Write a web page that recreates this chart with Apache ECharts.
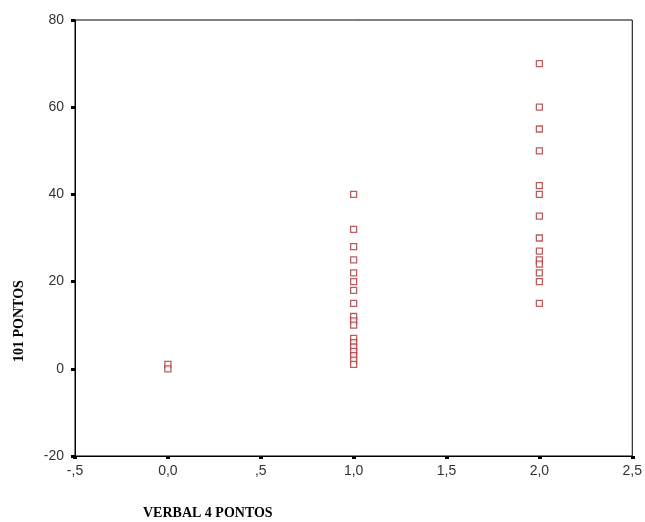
<!DOCTYPE html>
<html>
<head>
<meta charset="utf-8">
<script src="https://cdn.jsdelivr.net/npm/echarts@6/dist/echarts.min.js"></script>
<style>
    html, body { margin: 0; padding: 0; background: #fff; }
    #chart { width: 645px; height: 522px; }
</style>
</head>
<body>
<div id="chart"></div>
<script>
    // verbal score groups and the "101 pontos" values
    var group0 = [1, 0]
    var group1 = [40, 32, 28, 25, 22, 20, 18, 15, 12, 11, 10, 7, 6, 5, 4, 3, 2, 1]
    var group2 = [70, 60, 55, 50, 42, 40, 35, 30, 27, 25, 24, 22, 20, 15]

    var xTickLabels = { '-0.5': '-,5', '0': '0,0', '0.5': ',5', '1': '1,0', '1.5': '1,5', '2': '2,0', '2.5': '2,5' }

    function toPoints(x, arr) {
        return arr.map(function (v) { return [x, v] })
    }

    var points = [].concat(toPoints(0, group0), toPoints(1, group1), toPoints(2, group2))

    var chart = echarts.init(document.getElementById('chart'), null, { renderer: 'canvas' })

    chart.setOption({
        animation: false,
        grid: {
            left: 75,
            right: 11,
            top: 20,
            bottom: 66,
            show: true,
            borderColor: '#000',
            borderWidth: 1
        },
        xAxis: {
            type: 'value',
            min: -0.5,
            max: 2.5,
            interval: 0.5,
            splitLine: { show: false },
            axisLine: { onZero: false, lineStyle: { color: '#000' } },
            axisTick: { length: 3, lineStyle: { color: '#000', width: 4 } },
            axisLabel: {
                color: '#333',
                fontFamily: 'Liberation Sans, Arial',
                fontSize: 14,
                margin: 8,
                formatter: function (v) { return xTickLabels[String(v)] }
            }
        },
        yAxis: {
            type: 'value',
            min: -20,
            max: 80,
            interval: 20,
            splitLine: { show: false },
            axisLine: { onZero: false, lineStyle: { color: '#000' } },
            axisTick: { length: 4, lineStyle: { color: '#000', width: 3 } },
            axisLabel: {
                color: '#333',
                fontFamily: 'Liberation Sans, Arial',
                fontSize: 14,
                margin: 11
            }
        },
        graphic: [
            {
                type: 'text',
                left: 143,
                top: 506,
                style: {
                    text: 'VERBAL 4 PONTOS',
                    fill: '#000',
                    font: 'bold 14px "Liberation Serif", "DejaVu Serif", serif'
                }
            },
            {
                type: 'text',
                x: 12,
                y: 362,
                rotation: Math.PI / 2,
                style: {
                    text: '101 PONTOS',
                    fill: '#000',
                    font: 'bold 14px "Liberation Serif", "DejaVu Serif", serif'
                }
            }
        ],
        series: [{
            type: 'scatter',
            symbol: 'rect',
            symbolSize: 6,
            itemStyle: {
                color: '#fff',
                borderColor: '#a8363a',
                borderWidth: 1.3
            },
            data: points
        }]
    })
</script>
</body>
</html>
